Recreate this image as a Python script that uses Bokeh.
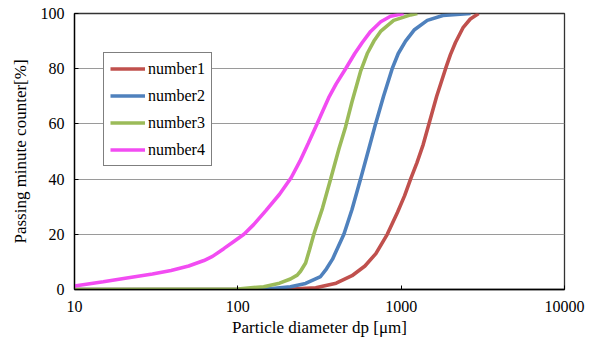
from bokeh.plotting import figure
from bokeh.models import FixedTicker, Range1d
from bokeh.embed import file_html
from bokeh.resources import INLINE

# ---- data ----
x_ticks = [10, 100, 1000, 10000]
x_tick_labels = ["10", "100", "1000", "10000"]
y_ticks = [0, 20, 40, 60, 80, 100]

d1 = [10, 100, 200, 300, 400, 500, 600, 700, 822, 950, 1050, 1142, 1250, 1364, 1479, 1650, 1870, 2000, 2150, 2400, 2650, 2980]
p1 = [0, 0, 0.1, 0.6, 2.3, 5, 8.5, 13, 20, 28, 34, 40, 46, 52.5, 60, 70, 80, 85, 89.5, 95, 98, 100]

d2 = [10, 100, 150, 210, 260, 321, 349, 380, 446, 500, 564, 634, 697, 780, 881, 960, 1064, 1200, 1445, 1800, 2660]
p2 = [0, 0, 0.2, 1, 2.2, 4.7, 7.5, 11, 20, 29, 40, 51, 60, 70, 80, 85.5, 90, 94, 97.5, 99.3, 100]

d3 = [10, 100, 120, 144, 180, 210, 231, 242, 260, 275, 292, 330, 370, 416, 457, 500, 564, 620, 681, 748, 900, 1143, 1256]
p3 = [0, 0.2, 0.6, 1, 2.3, 3.8, 5.2, 6.6, 9.6, 14.5, 20, 29.5, 40, 51, 59, 68, 79, 85.5, 90, 93.5, 97.5, 99.5, 100]

d4 = [10, 15, 20, 30, 39, 50, 62, 70, 82, 95, 109, 125, 148, 180, 212, 240, 270, 300, 330, 360, 400, 457, 520, 578, 650, 750, 861, 1035]
p4 = [1.3, 2.8, 4.0, 5.6, 6.9, 8.5, 10.5, 12, 14.8, 17.5, 20, 23.5, 28.5, 34.5, 40.5, 46.5, 53, 59, 64.5, 69.5, 74.5, 80, 85.5, 89.5, 93.5, 97, 99, 100]

series = [
    ("number1", d1, p1, "#C0504D"),
    ("number2", d2, p2, "#4F81BD"),
    ("number3", d3, p3, "#9BBB59"),
    ("number4", d4, p4, "#F24CF2"),
]

FONT = "Liberation Serif"

p = figure(width=587, height=339, x_axis_type="log",
           x_range=Range1d(10, 10000), y_range=Range1d(0, 100),
           output_backend="svg", toolbar_location=None)
p.min_border_left = 74
p.min_border_top = 13
p.min_border_right = 23
p.min_border_bottom = 48

for name, d, v, c in series:
    p.line(d, v, line_color=c, line_width=3.6, legend_label=name)

# axes
p.xaxis.ticker = FixedTicker(ticks=x_ticks)
p.xaxis.major_label_overrides = {t: l for t, l in zip(x_ticks, x_tick_labels)}
p.yaxis.ticker = FixedTicker(ticks=y_ticks)
for ax in (p.xaxis, p.yaxis):
    ax.axis_line_color = "black"
    ax.axis_line_width = 1.3
    ax.major_tick_in = 4
    ax.major_tick_out = 0
    ax.major_tick_line_color = "black"
    ax.minor_tick_line_color = None
    ax.major_label_text_font = FONT
    ax.major_label_text_font_size = "16px"
    ax.major_label_text_color = "black"
    ax.axis_label_text_font = FONT
    ax.axis_label_text_font_size = "17px"
    ax.axis_label_text_font_style = "normal"
    ax.axis_label_text_color = "black"

p.xaxis.axis_label = "Particle diameter dp [μm]"
p.yaxis.axis_label = "Passing minute counter[%]"
p.xaxis.major_label_standoff = 11
p.yaxis.major_label_standoff = 10
p.xaxis.axis_label_standoff = 3
p.yaxis.axis_label_standoff = 8

p.xgrid.grid_line_color = None
p.ygrid.grid_line_color = "#9a9a9a"
p.ygrid.grid_line_width = 1.2
p.outline_line_color = "#333333"
p.outline_line_width = 1.3

leg = p.legend[0]
leg.location = (29, 123)
leg.border_line_color = "black"
leg.border_line_width = 1
leg.background_fill_alpha = 1
leg.label_text_font = FONT
leg.label_text_font_size = "16px"
leg.label_text_color = "black"
leg.glyph_width = 35
leg.glyph_height = 19
leg.label_height = 19
leg.spacing = 8
leg.padding = 6
leg.margin = 0
leg.label_standoff = 3

open("out.html", "w").write(file_html(p, INLINE))
